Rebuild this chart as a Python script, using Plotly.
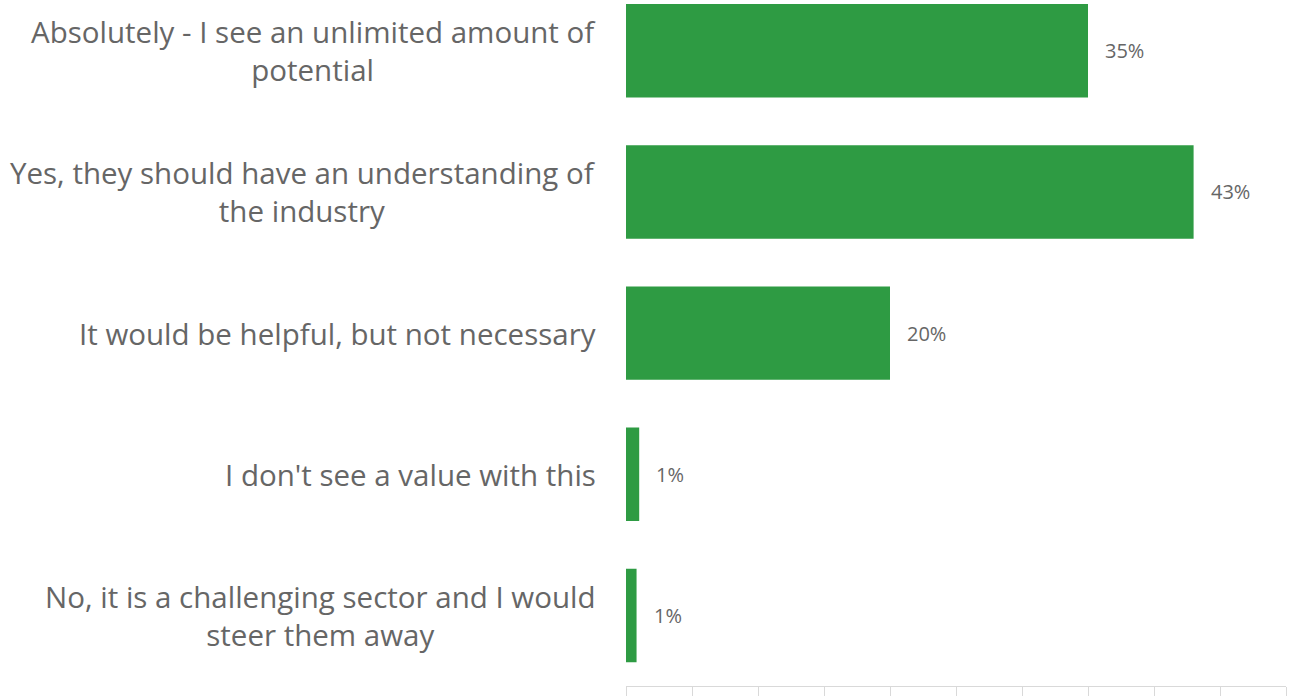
import plotly.graph_objects as go

# Survey answers (top to bottom) and their share of respondents (%)
categories = [
    "Absolutely - I see an unlimited amount of<br>potential",
    "Yes, they should have an understanding of<br>the industry",
    "It would be helpful, but not necessary",
    "I don't see a value with this",
    "No, it is a challenging sector and I would<br>steer them away",
]
shares = [35, 43, 20, 1.0, 0.8]

bar_color = "#2e9b43"
text_color = "#666666"
label_font = "Open Sans, Calibri, sans-serif"

fig = go.Figure(
    go.Bar(
        x=shares,
        y=list(range(len(categories))),
        orientation="h",
        marker=dict(color=bar_color, line=dict(width=0)),
        width=0.662,
        hoverinfo="skip",
    )
)

annotations = []
# Category labels, centred line by line, to the left of the axis
for i, cat in enumerate(categories):
    annotations.append(dict(
        x=0, xref="x", y=i, yref="y",
        text=cat, showarrow=False,
        xanchor="right", yanchor="middle", align="center",
        xshift=-28,
        font=dict(family=label_font, size=29.5, color=text_color),
    ))
# Value labels just past the end of each bar
for i, v in enumerate(shares):
    annotations.append(dict(
        x=v, xref="x", y=i, yref="y",
        text=f"{v:.0f}%", showarrow=False,
        xanchor="left", yanchor="middle",
        xshift=15,
        font=dict(family=label_font, size=20, color=text_color),
    ))

fig.update_layout(
    width=1289, height=696,
    margin=dict(l=626, r=3, t=0, b=6),
    paper_bgcolor="white", plot_bgcolor="white",
    showlegend=False,
    annotations=annotations,
    xaxis=dict(
        range=[0, 50], dtick=5, tick0=0,
        showgrid=False, zeroline=False,
        showline=True, linecolor="#d9d9d9", linewidth=1,
        ticks="outside", ticklen=10, tickcolor="#d9d9d9", tickwidth=1,
        showticklabels=False,
    ),
    yaxis=dict(
        range=[4.5, -0.36],
        showgrid=False, zeroline=False, showline=False,
        showticklabels=False, ticks="",
    ),
)

fig.write_html("out.html")
